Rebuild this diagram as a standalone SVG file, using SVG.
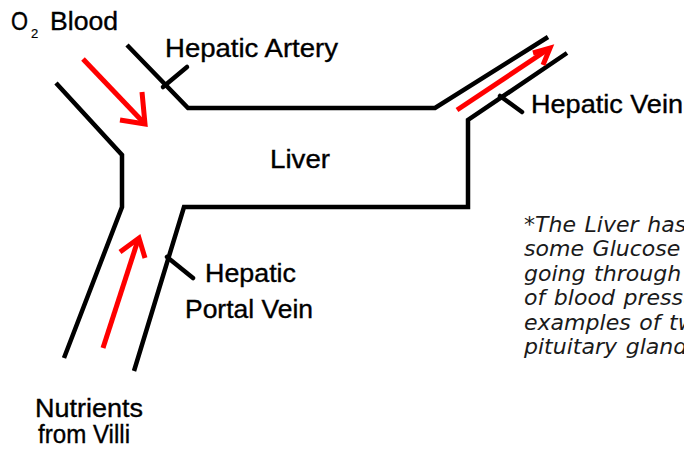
<svg xmlns="http://www.w3.org/2000/svg" width="684" height="454" viewBox="0 0 684 454">
<style>
.v{fill:none;stroke:#000;stroke-width:4.5;stroke-linejoin:miter;stroke-linecap:butt}
.t{fill:none;stroke:#000;stroke-width:4.5;stroke-linecap:round}
.r{fill:none;stroke:#ff0000;stroke-width:5;stroke-linejoin:miter;stroke-linecap:butt}
.lb{font-family:"Liberation Sans",Arial,sans-serif;font-size:25px;fill:#000;stroke:#000;stroke-width:0.35}
.note{font-family:"DejaVu Sans",Verdana,sans-serif;font-style:italic;font-size:21px;fill:#1a1a1a;word-spacing:1.5px}
</style>
<rect width="684" height="454" fill="#fff"/>
<g id="connectors">
<path class="v" d="M56,83 L122,155 L122,207 L64,358"/>
<path class="v" d="M127,45 L188,108 L435,108 L548,37"/>
<path class="v" d="M567,53 L468,120 L468,207 L184,207 L134,371"/>
<line class="t" x1="163" y1="87" x2="187" y2="67"/>
<line class="t" x1="500" y1="96" x2="522" y2="112"/>
<line class="t" x1="167" y1="257" x2="193" y2="278"/>
<line class="r" x1="83" y1="59" x2="144" y2="123"/>
<polyline class="r" points="142,92 145,124 120,120"/>
<line class="r" x1="457" y1="110" x2="547" y2="50"/>
<polyline class="r" points="533,53 550,48 543,65"/>
<line class="r" x1="103" y1="348" x2="138" y2="240"/>
<polyline class="r" points="120,252 139,238 145,258"/>
</g>
<g id="o2-blood"><text class="lb" y="30"><tspan x="11" textLength="17" lengthAdjust="spacingAndGlyphs">O</tspan><tspan x="31" y="38" font-size="13" stroke-width="0.2">2</tspan><tspan x="50" y="30" textLength="68" lengthAdjust="spacingAndGlyphs">Blood</tspan></text></g>
<g id="hepatic-artery"><text class="lb" x="165" y="57" textLength="173" lengthAdjust="spacingAndGlyphs">Hepatic Artery</text></g>
<g id="liver"><text class="lb" x="270" y="168" textLength="60" lengthAdjust="spacingAndGlyphs">Liver</text></g>
<g id="hepatic-vein"><text class="lb" x="531" y="113" textLength="152" lengthAdjust="spacingAndGlyphs">Hepatic Vein</text></g>
<g id="hepatic-portal-vein"><text class="lb" x="205" y="282" textLength="91" lengthAdjust="spacingAndGlyphs">Hepatic</text><text class="lb" x="185" y="318" textLength="128" lengthAdjust="spacingAndGlyphs">Portal Vein</text></g>
<g id="nutrients"><text class="lb" x="35" y="417" textLength="108" lengthAdjust="spacingAndGlyphs">Nutrients</text><text class="lb" x="38" y="443" textLength="92" lengthAdjust="spacingAndGlyphs">from Villi</text></g>
<g id="note" transform="translate(524,0) scale(1.05,1)">
<text class="note" x="0" y="232">*The Liver has</text>
<text class="note" x="0" y="256.5">some Glucose</text>
<text class="note" x="0" y="281">going through</text>
<text class="note" x="0" y="305.5">of blood pressu</text>
<text class="note" x="0" y="330">examples of tw</text>
<text class="note" x="0" y="354.5">pituitary gland</text>
</g>
</svg>
